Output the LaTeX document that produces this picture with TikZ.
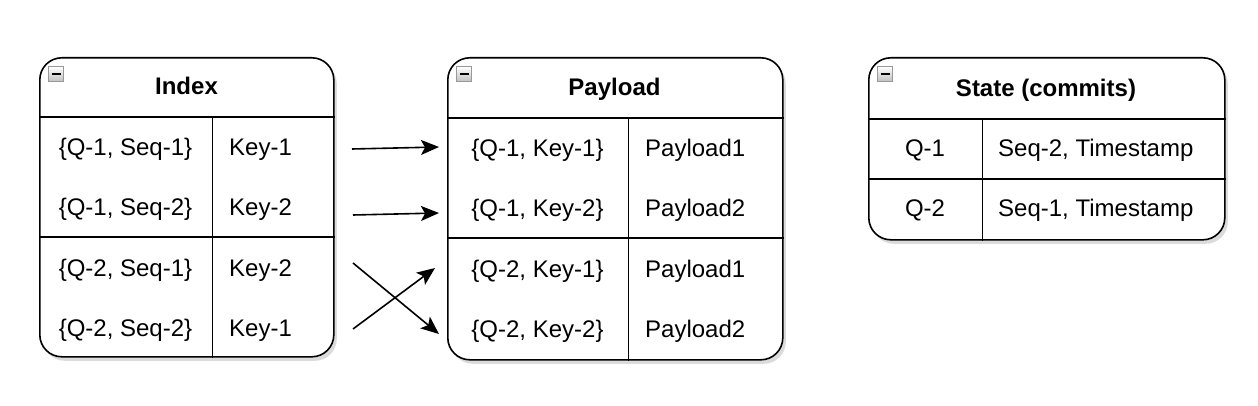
\documentclass[tikz,border=0pt]{standalone}
\usepackage{fontspec}
\setmainfont{Liberation Sans}
\usetikzlibrary{calc, shapes, arrows.meta, shadows}

\begin{document}
\begin{tikzpicture}[x=1pt, y=-1pt]
			\tikzset{tbl/.style={draw, line width=1.6pt, rounded corners=22pt, fill=white, anchor=north west, inner sep=0pt,
					drop shadow={shadow xshift=3pt, shadow yshift=-4pt, opacity=0.14, fill=black}}}
			\tikzset{cell/.style={font=\fontsize{24}{28}\selectfont, inner sep=0pt}}
			\tikzset{head/.style={font=\fontsize{24}{28}\selectfont\bfseries, inner sep=0pt, anchor=base}}
			\tikzset{sep/.style={line width=1.6pt}}
			\tikzset{colsep/.style={line width=1pt}}
			\tikzset{collapse/.style={draw=gray!80, line width=1pt, top color=white, bottom color=gray!50, minimum size=15pt, inner sep=0pt, anchor=north west}}
			\tikzset{link/.style={line width=1.6pt, -{Stealth[length=18pt, width=15pt, inset=4pt]}}}
			\useasboundingbox (0,0) rectangle (1258,406);
			% tables
			\node[tbl, minimum width=294pt, minimum height=299pt] (idx) at (39,57) {};
			\node[tbl, minimum width=335pt, minimum height=302pt] (pay) at (447,57) {};
			\node[tbl, minimum width=356pt, minimum height=182pt] (st) at (868,57) {};
			\foreach \t in {idx, pay, st}
				\node[collapse] (\t-icon) at ($(\t.north west)+(9,9)$) {\rule{9pt}{2.5pt}};
			% rows and columns
			\draw[sep] ($(idx.north west)+(0,60)$) -- ($(idx.north east)+(0,60)$);
			\draw[sep] ($(idx.north west)+(0,180)$) -- ($(idx.north east)+(0,180)$);
			\draw[colsep] ($(idx.north west)+(173,60)$) -- ($(idx.south west)+(173,0)$);
			\draw[sep] ($(pay.north west)+(0,61)$) -- ($(pay.north east)+(0,61)$);
			\draw[sep] ($(pay.north west)+(0,181)$) -- ($(pay.north east)+(0,181)$);
			\draw[colsep] ($(pay.north west)+(181,61)$) -- ($(pay.south west)+(181,0)$);
			\draw[sep] ($(st.north west)+(0,62)$) -- ($(st.north east)+(0,62)$);
			\draw[sep] ($(st.north west)+(0,122)$) -- ($(st.north east)+(0,122)$);
			\draw[colsep] ($(st.north west)+(114,62)$) -- ($(st.south west)+(114,0)$);
			% headers
			\node[head] (idx-head) at (186.5,95) {Index};
			\node[head] (pay-head) at (614.5,96) {Payload};
			\node[head] (st-head) at (1046,97) {State (commits)};
			% cells
			\foreach \q/\s [count=\i] in {1/1, 1/2, 2/1, 2/2} {
				\node[cell, anchor=base] (idx-k\i) at (125.5,96+60*\i) {\{Q-\q, Seq-\s\}};
				\node[cell, anchor=base] (pay-k\i) at (537.5,97+60*\i) {\{Q-\q, Key-\s\}};
				\node[cell, anchor=base west] (pay-v\i) at (645,97+60*\i) {Payload\s};
			}
			\foreach \k [count=\i] in {1, 2, 2, 1}
				\node[cell, anchor=base west] (idx-v\i) at (229,96+60*\i) {Key-\k};
			\foreach \s [count=\i] in {2, 1} {
				\node[cell, anchor=base] (st-k\i) at (925,97+60*\i) {Q-\i};
				\node[cell, anchor=base west] (st-v\i) at (998,97+60*\i) {Seq-\s, Timestamp};
			}
			% links
			\coordinate (s1) at (352,149);
			\coordinate (t1) at (439,147);
			\coordinate (s2) at (353,215);
			\coordinate (t2) at (439,213);
			\coordinate (s3) at (353,263);
			\coordinate (t3) at (439,334);
			\coordinate (s4) at (353,329);
			\coordinate (t4) at (435,268);
			\draw[link] (s1) -- (t1);
			\draw[link] (s2) -- (t2);
			\draw[link] (s3) -- (t3);
			\draw[link] (s4) -- (t4);
\end{tikzpicture}
\end{document}
